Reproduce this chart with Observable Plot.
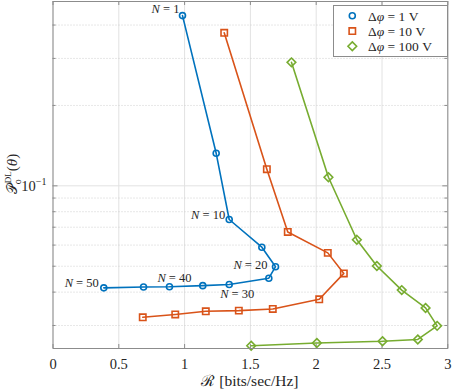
<!DOCTYPE html>
<html><head><meta charset="utf-8">
<script src="https://cdn.jsdelivr.net/npm/d3@7"></script>
<script src="https://cdn.jsdelivr.net/npm/@observablehq/plot@0.6"></script>
<style>body{margin:0;background:#fff} svg{display:block}</style>
</head><body><div id="chart"></div>
<script>
// ---- data ----
const N = [1, 5, 10, 15, 20, 25, 30, 35, 40, 45, 50];
const rate1V   = [0.984, 1.240, 1.339, 1.587, 1.691, 1.640, 1.339, 1.138, 0.885, 0.688, 0.386];
const prob1V   = [0.434, 0.1324, 0.0748, 0.0589, 0.0498, 0.0451, 0.0427, 0.0423, 0.0419, 0.0418, 0.0415];
const rate10V  = [1.301, 1.625, 1.784, 2.088, 2.210, 2.023, 1.670, 1.412, 1.161, 0.929, 0.682];
const prob10V  = [0.374, 0.1154, 0.0672, 0.0561, 0.0470, 0.0376, 0.0346, 0.0341, 0.0339, 0.0330, 0.0322];
const rate100V = [1.812, 2.093, 2.309, 2.461, 2.650, 2.831, 2.919, 2.772, 2.504, 2.005, 1.506];
const prob100V = [0.290, 0.1077, 0.0628, 0.0501, 0.0407, 0.0349, 0.0299, 0.0266, 0.0262, 0.0258, 0.0252];
const seriesNames = ["Δφ = 1 V", "Δφ = 10 V", "Δφ = 100 V"];
const labeledN = [1, 10, 20, 30, 40, 50];
const xTicks = [0, 0.5, 1, 1.5, 2, 2.5, 3];
const yMajor = [0.1];
const yMinor = [0.03, 0.04, 0.05, 0.06, 0.07, 0.08, 0.09, 0.2, 0.3, 0.4];

const mk = (r, p) => N.map((n, i) => ({n, rate: r[i], prob: p[i]}));
const s1 = mk(rate1V, prob1V), s2 = mk(rate10V, prob10V), s3 = mk(rate100V, prob100V);

const C1 = "#0072BD", C2 = "#D95319", C3 = "#77AC30";
const W = 457, H = 390, mL = 52.5, mR = 9.7, mT = 1, mB = 42;
const pH = H - mT - mB, pW = W - mL - mR;
const serif = "'Liberation Serif', 'DejaVu Serif', serif";

const ann = (n, anchor, dx, dy) => Plot.text(s1.filter(d => d.n === n), {
  x: "rate", y: "prob", text: d => "N = " + d.n, textAnchor: anchor, dx, dy,
  fontSize: 12.5, fill: "#262626", className: "ann"
});

const plot = Plot.plot({
  width: W, height: H, marginLeft: mL, marginRight: mR, marginTop: mT, marginBottom: mB,
  style: {fontFamily: serif, fontSize: "14px", background: "#fff", color: "#262626", overflow: "visible"},
  x: {domain: [0, 3]},
  y: {type: "log", domain: [0.0246, 0.49]},
  marks: [
    Plot.gridX(xTicks, {stroke: "#e2e2e2", strokeOpacity: 1}),
    Plot.gridY(yMajor, {stroke: "#e2e2e2", strokeOpacity: 1}),
    Plot.gridY(yMinor, {stroke: "#cfcfcf", strokeOpacity: 1, strokeDasharray: "1,2"}),
    Plot.tickX(xTicks, {x: d => d, insetTop: pH - 4, stroke: "#8c8c8c"}),
    Plot.tickX(xTicks, {x: d => d, insetBottom: pH - 4, stroke: "#8c8c8c"}),
    Plot.tickY(yMajor, {y: d => d, insetRight: pW - 5, stroke: "#8c8c8c"}),
    Plot.tickY(yMajor, {y: d => d, insetLeft: pW - 5, stroke: "#8c8c8c"}),
    Plot.tickY(yMinor, {y: d => d, insetRight: pW - 3, stroke: "#8c8c8c"}),
    Plot.tickY(yMinor, {y: d => d, insetLeft: pW - 3, stroke: "#8c8c8c"}),
    Plot.line(s1, {x: "rate", y: "prob", stroke: C1, strokeWidth: 1.6}),
    Plot.line(s2, {x: "rate", y: "prob", stroke: C2, strokeWidth: 1.6}),
    Plot.line(s3, {x: "rate", y: "prob", stroke: C3, strokeWidth: 1.6}),
    Plot.dot(s1, {x: "rate", y: "prob", symbol: "circle", r: 3, stroke: C1, strokeWidth: 1.6}),
    Plot.dot(s2, {x: "rate", y: "prob", symbol: "square", r: 3.6, stroke: C2, strokeWidth: 1.6}),
    Plot.dot(s3, {x: "rate", y: "prob", symbol: "diamond2", r: 3.9, stroke: C3, strokeWidth: 1.6}),
    ann(1, "end", -3, -7),
    ann(10, "end", -4, -5),
    ann(20, "end", -8, -2),
    ann(30, "middle", 8, 9),
    ann(40, "middle", 5, -9),
    ann(50, "end", -5, -5),
    Plot.frame({stroke: "#8c8c8c"}),
    Plot.axisX(xTicks, {tickSize: 0, tickPadding: 10, fontSize: 14.5, tickFormat: d => String(d), label: null}),
    Plot.axisY([], {tickSize: 0, label: null})
  ]
});
document.getElementById("chart").appendChild(plot);

const svg = d3.select(plot);
// italic N in annotations
svg.selectAll(".ann text").each(function () {
  const t = this.textContent; const rest = t.slice(1);
  const sel = d3.select(this); sel.text(null);
  sel.append("tspan").attr("font-style", "italic").text("N");
  sel.append("tspan").text(rest);
});

const ys = plot.scale("y");
// y tick label 10^-1
const yl = svg.append("text").attr("x", mL - 6).attr("y", ys.apply(0.1)).attr("dy", "0.38em")
  .attr("text-anchor", "end").attr("font-family", serif).attr("font-size", 14.5).attr("fill", "#262626");
yl.append("tspan").text("10");
yl.append("tspan").attr("font-size", 10).attr("dy", -6).text("−1");

// y axis title
const yt = svg.append("text").attr("transform", `translate(17,${174}) rotate(-90)`)
  .attr("text-anchor", "middle").attr("font-family", serif).attr("font-size", 15).attr("fill", "#262626");
yt.append("tspan").attr("font-size", 14).text("𝒫");
yt.append("tspan").attr("font-size", 9).attr("dx", 1).attr("dy", -6).text("DL");
yt.append("tspan").attr("font-size", 10).attr("dx", -13).attr("dy", 10).text("o");
yt.append("tspan").attr("dx", 8).attr("dy", -4).text("(");
yt.append("tspan").attr("font-style", "italic").text("θ");
yt.append("tspan").text(")");

// x axis title
const xt = svg.append("text").attr("x", (mL + W - mR) / 2).attr("y", 381).attr("dy", "0.35em")
  .attr("text-anchor", "middle").attr("font-family", serif).attr("font-size", 15.5).attr("fill", "#262626");
xt.append("tspan").text("ℛ");
xt.append("tspan").text(" [bits/sec/Hz]");

// legend
const lg = svg.append("g");
lg.append("rect").attr("x", 333.5).attr("y", 5.5).attr("width", 114).attr("height", 51)
  .attr("fill", "#fff").attr("stroke", "#8c8c8c");
const syms = [d3.symbolCircle, d3.symbolSquare, d3.symbolDiamond2];
const rs = [3, 3.6, 3.9], cols = [C1, C2, C3], rowsY = [15.8, 31.1, 46.2];
seriesNames.forEach((name, i) => {
  lg.append("path").attr("d", d3.symbol(syms[i], Math.PI * rs[i] * rs[i])())
    .attr("transform", `translate(352.3,${rowsY[i]})`).attr("fill", "none")
    .attr("stroke", cols[i]).attr("stroke-width", 1.6);
  lg.append("text").attr("x", 368).attr("y", rowsY[i]).attr("dy", "0.35em")
    .attr("text-anchor", "start")
    .attr("font-family", serif).attr("font-size", 13.5).attr("fill", "#262626")
    .html(`Δ<tspan font-style="italic">φ</tspan>${name.slice(2)}`);
});
</script></body></html>
